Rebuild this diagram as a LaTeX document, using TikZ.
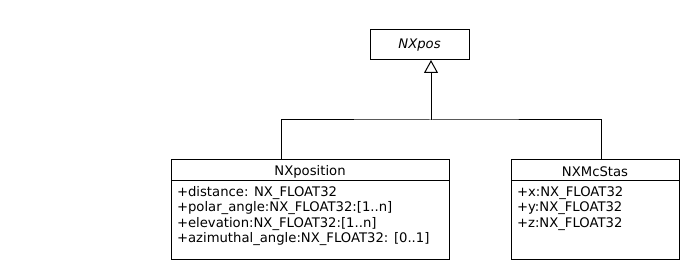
\documentclass[tikz,border=0pt]{standalone}
\usepackage{fontspec}
\setmainfont{DejaVu Sans}
\usetikzlibrary{arrows.meta}
\begin{document}
\begin{tikzpicture}[x=1pt,y=-1pt,
  every node/.style={inner sep=0pt,outer sep=0pt},
  classbox/.style={draw,line width=1pt,rectangle},
  attrs/.style={anchor=west,font=\fontsize{13.2}{15.5}\selectfont,align=left},
  title/.style={font=\fontsize{13.2}{15}\selectfont},
  edge/.style={line width=1pt},
  inherit/.style={edge,-{Triangle[open,width=14pt,length=13pt,line width=1pt]}}]
\useasboundingbox[fill=white] (0,0) rectangle (700,280);

% abstract base class
\node[classbox,minimum width=99pt,minimum height=30pt] (nxpos) at (419.5,45) {};
\node[title,font=\fontsize{13.2}{15}\selectfont\itshape] (nxposname) at (419.5,45) {NXpos};

% NXposition class
\node[classbox,minimum width=278pt,minimum height=99pt] (nxposition) at (310,209.5) {};
\draw[edge] (171,181) -- (449,181);
\node[title] (nxpositionname) at (310,172) {NXposition};
\node[attrs] (nxpositionattrs) at (177,216) {+distance: NX\_FLOAT32\\+polar\_angle:NX\_FLOAT32:[1..n]\\+elevation:NX\_FLOAT32:[1..n]\\+azimuthal\_angle:NX\_FLOAT32: [0..1]};

% NXMcStas class
\node[classbox,minimum width=168pt,minimum height=99pt] (nxmcstas) at (595,209.5) {};
\draw[edge] (511,181) -- (679,181);
\node[title] (nxmcstasname) at (595,172) {NXMcStas};
\node[attrs] (nxmcstasattrs) at (517,208.5) {+x:NX\_FLOAT32\\+y:NX\_FLOAT32\\+z:NX\_FLOAT32};

% generalisation connectors
\coordinate (join) at (431,120);
\draw[edge] ([xshift=-29pt]nxposition.north) |- (join) -| ([xshift=6pt]nxmcstas.north);
\draw[inherit] (join) -- (nxpos.south -| join);
\end{tikzpicture}
\end{document}
